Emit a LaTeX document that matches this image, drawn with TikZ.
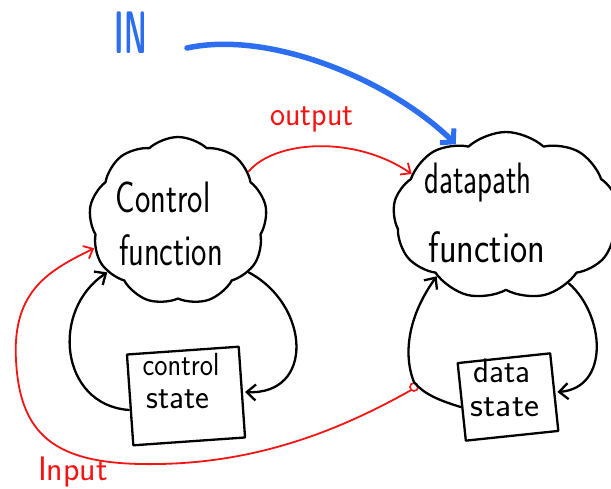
\documentclass[tikz,border=0pt]{standalone}
\usetikzlibrary{shapes.symbols,arrows.meta}
\definecolor{penred}{RGB}{245,20,20}
\definecolor{penblue}{RGB}{45,110,240}
\newcommand\squeeze[2]{\scalebox{#1}[1]{#2}}
\begin{document}
\begin{tikzpicture}[x=1pt,y=-1pt,
  ink/.style={line width=2.3pt, line cap=round, line join=round},
  puffy/.style={cloud, draw, ink, cloud puffs=9, cloud puff arc=85,
    cloud ignores aspect, minimum width=#1, inner sep=0pt},
  statebox/.style={draw, ink, inner sep=0pt},
  big/.style={font=\sffamily\fontsize{44}{46}\selectfont, inner sep=0pt},
  small/.style={font=\sffamily\fontsize{#1}{#1}\selectfont, inner sep=0pt},
  redtxt/.style={font=\sffamily\fontsize{34}{36}\selectfont, inner sep=0pt, text=penred},
  loop/.style={ink, -{Straight Barb[length=9pt,width=16pt,line width=2.3pt]}},
  redline/.style={line width=1.8pt, line cap=round, draw=penred,
    -{Straight Barb[length=8pt,width=14pt,line width=1.8pt]}},
]
\useasboundingbox[fill=white] (0,0) rectangle (611,488);

% function clouds
\node[puffy=178pt, minimum height=168pt] (ctrl) at (178,221) {};
\node[puffy=226pt, minimum height=168pt] (dp) at (506,216) {};
\node[big] (ctrlA) at (163,197) {\squeeze{0.74}{Control}};
\node[big] (ctrlB) at (171,250) {\squeeze{0.74}{function}};
\node[big] (dpA) at (478,183) {\squeeze{0.7}{datapath}};
\node[big] (dpB) at (487,247) {\squeeze{0.83}{function}};

% state registers
\node[statebox, rotate=4, minimum width=112pt, minimum height=91pt] (cst) at (186,396) {};
\node[small=32] (cstA) at (181,365) {\squeeze{0.88}{control}};
\node[small=34] (cstB) at (178,399) {\squeeze{0.97}{state}};
\node[statebox, rotate=6, minimum width=93pt, minimum height=78pt] (dst) at (508,397) {};
\node[small=34] (dstA) at (502,371) {\squeeze{0.97}{data}};
\node[small=34] (dstB) at (505,407) {\squeeze{1.05}{state}};

% feedback loops
\draw[loop] (ctrl.-36) .. controls (310,305) and (315,395) .. ([xshift=2pt]cst.east);
\draw[loop] ([yshift=-10pt]cst.west) .. controls (60,405) and (50,310) .. (ctrl.-144);
\draw[loop] (dp.-47) .. controls (605,315) and (610,388) .. ([xshift=2pt]dst.east);
\node[circle, draw=penred, fill=white, line width=1.6pt, minimum size=8pt, inner sep=0pt] (tap) at (414,387) {};
\draw[loop] ([yshift=-5pt]dst.west) .. controls (438,400) and (424,394) .. (tap.north)
  .. controls (405,360) and (404,322) .. (dp.-139);

% output and input signals
\draw[redline] (ctrl.35) .. controls (275,140) and (355,135) .. (dp.156);
\node[redtxt] (outlbl) at (312,119) {\squeeze{0.94}{output}};
\draw[redline] (tap.south west) .. controls (340,430) and (260,462) .. (160,464)
  .. controls (60,466) and (20,440) .. (16,360)
  .. controls (12,290) and (50,270) .. (ctrl.-162);
\node[redtxt] (inlbl) at (73,472) {Input};

% external input
\node[font=\sffamily\bfseries\fontsize{30}{32}\selectfont, text=penblue, inner sep=0pt] (IN) at (131,33) {\scalebox{0.95}[2.0]{IN}};
\coordinate (inStart) at (187,48);
\draw[line width=5.5pt, line cap=round, draw=penblue,
  -{Straight Barb[length=9pt,width=20pt,line width=5pt]}]
  (inStart) .. controls (270,30) and (390,80) .. (dp.125);
\end{tikzpicture}
\end{document}
